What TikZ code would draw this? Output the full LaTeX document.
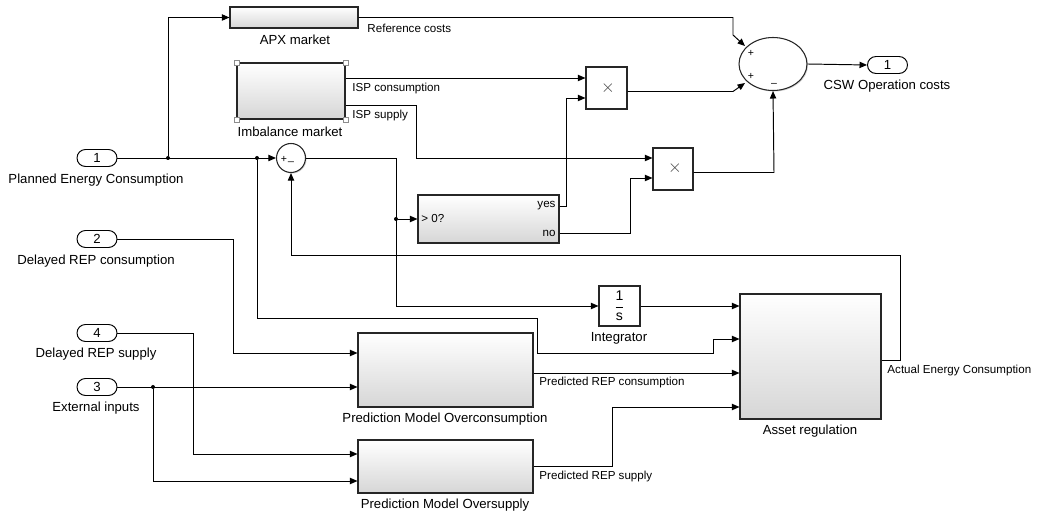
\documentclass[tikz,border=0pt]{standalone}
\usepackage{fontspec}
\setmainfont{Liberation Sans}
\usetikzlibrary{arrows.meta,shadows,shapes.misc,shapes.geometric,positioning}

\begin{document}
\begin{tikzpicture}[x=0.02cm,y=-0.02cm,line width=0.55pt,
  sig/.style={-{Triangle[length=1.5mm,width=1.25mm]}},
  blk/.style={draw=black!85,line width=0.6pt,top color=white,bottom color=black!16,
    drop shadow={shadow xshift=0.6pt,shadow yshift=-0.6pt,opacity=0.35},inner sep=0pt},
  wblk/.style={blk,top color=white,bottom color=white},
  port/.style={draw,rounded rectangle,fill=white,minimum width=0.8cm,minimum height=0.34cm,
    inner sep=0pt,font=\fontsize{7.5}{9}\selectfont},
  lbl/.style={font=\fontsize{7.5}{9}\selectfont,inner sep=0pt},
  slbl/.style={font=\fontsize{6.6}{8}\selectfont,inner sep=0pt},
  sgn/.style={font=\fontsize{6}{7}\selectfont,inner sep=0pt},
  dot/.style={circle,fill,inner sep=0pt,minimum size=0.08cm},
  hdl/.style={draw=black!45,fill=white,line width=0.4pt,minimum size=0.1cm,inner sep=0pt}]
\useasboundingbox (0,0) rectangle (1038,516);

% inports
\node[port] (in1) at (97,158) {1};
\node[lbl] (lin1) at (96,180) {Planned Energy Consumption};
\node[port] (in2) at (97,239) {2};
\node[lbl] (lin2) at (96,261) {Delayed REP consumption};
\node[port] (in4) at (97,333) {4};
\node[lbl] (lin4) at (96,354) {Delayed REP supply};
\node[port] (in3) at (97,387) {3};
\node[lbl] (lin3) at (96,408) {External inputs};

% blocks
\node[blk,minimum width=2.56cm,minimum height=0.42cm] (apx) at (294,17.5) {};
\node[lbl] (lapx) at (295,40) {APX market};
\node[blk,minimum width=2.16cm,minimum height=1.12cm] (imb) at (291,91) {};
\node[lbl] (limb) at (290,132) {Imbalance market};
\foreach \a in {north west,north east,south west,south east}
  \node[hdl] at (imb.\a) {};
\node[wblk,circle,minimum size=0.58cm] (sum1) at (291,158) {};
\node[sgn] at (284,159) {+};
\node[sgn] at (291,162) {\_};
\node[blk,minimum width=2.82cm,minimum height=0.96cm] (cmp) at (488.5,219) {};
\node[slbl,anchor=west] at (421,219) {> 0?};
\node[slbl,anchor=east] at (556,206) {yes};
\node[slbl,anchor=east] at (556,233) {no};
\node[wblk,minimum width=0.82cm,minimum height=0.84cm] (prod1) at (606.5,88) {};
\node[lbl,font=\fontsize{10}{10}\selectfont,text=black!75] at (608,88) {$\times$};
\node[wblk,minimum width=0.8cm,minimum height=0.84cm] (prod2) at (673,169) {};
\node[lbl,font=\fontsize{10}{10}\selectfont,text=black!75] at (675,168) {$\times$};
\node[wblk,ellipse,minimum width=1.36cm,minimum height=1.06cm] (sum2) at (773,64) {};
\node[sgn] at (751,53) {+};
\node[sgn] at (751,76) {+};
\node[sgn] at (774,85) {--};
\node[port] (out1) at (887.5,65) {1};
\node[lbl] (lout1) at (887,86) {CSW Operation costs};
\node[wblk,minimum width=0.82cm,minimum height=0.8cm] (integ) at (619.5,306) {};
\node[lbl,font=\fontsize{8}{9}\selectfont] at (619.5,306) {$\displaystyle\frac{\textrm{1}}{\textrm{s}}$};
\node[lbl] (linteg) at (619,338) {Integrator};
\node[blk,minimum width=3.5cm,minimum height=1.48cm] (pmc) at (445.5,370) {};
\node[lbl] (lpmc) at (445,419) {Prediction Model Overconsumption};
\node[blk,minimum width=3.5cm,minimum height=1.06cm] (pms) at (445.5,466.5) {};
\node[lbl] (lpms) at (445,505) {Prediction Model Oversupply};
\node[blk,minimum width=2.82cm,minimum height=2.5cm] (asset) at (810.5,356.5) {};
\node[lbl] (lasset) at (810,431) {Asset regulation};

% junctions
\node[dot] (j1) at (168,158) {};
\node[dot] (j2) at (257,158) {};
\node[dot] (j3) at (396,219) {};
\node[dot] (j4) at (153,387) {};

% connectors
\draw[sig] (in1.east) -- (sum1.west);
\draw[sig] (j1) |- (apx.west);
\draw[sig] (apx.east) -- (733,17.5) -- (733,35) -- (745,46);
\node[slbl,anchor=west] at (367,28) {Reference costs};
\draw[sig] (imb.east |- 0,78) -- (prod1.west |- 0,78);
\node[slbl,anchor=west] at (352,89) {ISP consumption};
\draw[sig] (imb.east |- 0,105) -- (416,105) -- (416,158) -- (prod2.west |- 0,158);
\node[slbl,anchor=west] at (352,116) {ISP supply};
\draw (sum1.east) -- (396,158) -- (396,306);
\draw[sig] (396,306) -- (integ.west);
\draw[sig] (j3) -- (cmp.west);
\draw[sig] (j2) -- (257,318) -- (537,318) -- (537,353) -- (713,353) -- (713,339) -- (asset.west |- 0,339);
\draw[sig] (asset.east |- 0,360) -- (900,360) -- (900,255) -- (291,255) -- (sum1.south);
\node[slbl,anchor=west] at (887,371) {Actual Energy Consumption};
\draw[sig] (cmp.east |- 0,206) -- (566,206) -- (566,98) -- (prod1.west |- 0,98);
\draw[sig] (cmp.east |- 0,233) -- (630,233) -- (630,178) -- (prod2.west |- 0,178);
\draw[sig] (prod1.east |- 0,91.5) -- (733,91.5) -- (745,83);
\draw[sig] (prod2.east |- 0,172.5) -- (774,172.5) -- (sum2.south);
\draw[sig] (sum2.east) -- (out1.west);
\draw[sig] (in2.east) -- (233,239) -- (233,353) -- (pmc.west |- 0,353);
\draw[sig] (in4.east) -- (193,333) -- (193,454) -- (pms.west |- 0,454);
\draw[sig] (in3.east) -- (pmc.west |- 0,387);
\draw[sig] (j4) |- (pms.west |- 0,481);
\draw[sig] (pmc.east |- 0,373) -- (asset.west |- 0,373);
\node[slbl,anchor=west] at (539,383) {Predicted REP consumption};
\draw[sig] (pms.east |- 0,466) -- (612,466) -- (612,407) -- (asset.west |- 0,407);
\node[slbl,anchor=west] at (539,477) {Predicted REP supply};
\draw[sig] (integ.east) -- (asset.west |- 0,306);
\end{tikzpicture}
\end{document}
